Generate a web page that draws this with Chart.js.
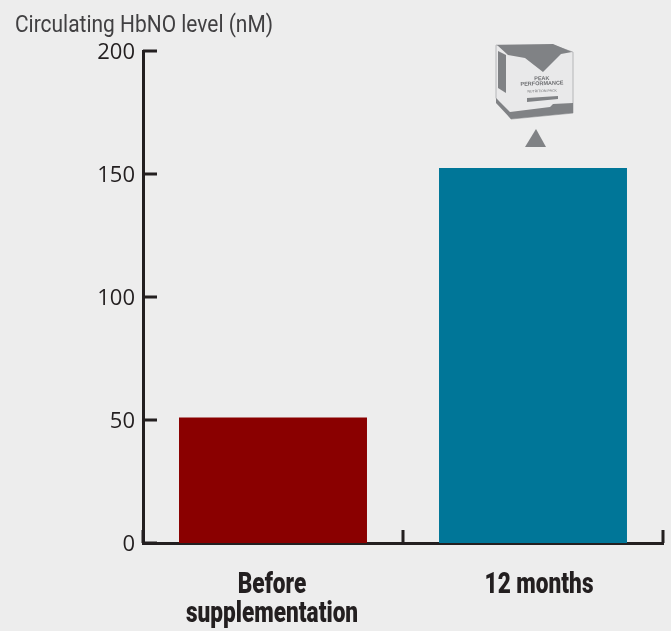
<!DOCTYPE html>
<html lang="en">
<head>
  <meta charset="UTF-8">
  <title>Circulating HbNO level</title>
  <script src="https://cdn.jsdelivr.net/npm/chart.js"></script>
  <style>
    body { margin: 0; padding: 0; background-color: #ededed; }
    canvas { display: block; }
  </style>
</head>
<body>
  <canvas id="chart" width="671" height="631"></canvas>

  <script>
    const categories = [['Before', 'supplementation'], ['12 months']];
    const hbnoValues = [51, 152.4];
    const barColors = ['#8a0000', '#007698'];
    const yTicks = [0, 50, 100, 150, 200];
    const axisColor = '#231f20';
    const iconColor = '#808285';
    const yTitle = 'Circulating HbNO level (nM)';
    const labelShift = [-1, 6]; // the labels sit a little off the bar centres in the original

    // no condensed font is installed, so squeeze the text horizontally
    function narrowText(ctx, text, x, y, font, color, squeeze, align) {
      ctx.save();
      ctx.font = font;
      ctx.fillStyle = color;
      ctx.textAlign = align;
      ctx.textBaseline = 'alphabetic';
      ctx.translate(x, y);
      ctx.scale(squeeze, 1);
      ctx.fillText(text, 0, 0);
      ctx.restore();
    }

    // ticks point inwards in the original, so ticks and labels are drawn here from the scales
    const axisMarks = {
      id: 'axisMarks',
      afterDraw(chart) {
        const { ctx, scales: { x, y } } = chart;
        ctx.save();
        ctx.strokeStyle = axisColor;
        ctx.lineWidth = 3;
        ctx.beginPath();
        yTicks.forEach(v => {
          const py = y.getPixelForValue(v);
          ctx.moveTo(x.left, py);
          ctx.lineTo(x.left + 14, py);
        });
        const step = x.getPixelForValue(1) - x.getPixelForValue(0);
        for (let i = 0; i <= categories.length; i++) {
          const px = x.getPixelForValue(0) + (i - 0.5) * step;
          ctx.moveTo(px, y.bottom);
          ctx.lineTo(px, y.bottom - 13);
        }
        ctx.stroke();
        ctx.restore();

        yTicks.forEach(v => {
          narrowText(ctx, String(v), x.left - 8, y.getPixelForValue(v) + 8, '22px "Open Sans"', axisColor, 1, 'right');
        });
        categories.forEach((lines, i) => {
          lines.forEach((line, j) => {
            narrowText(ctx, line, x.getPixelForValue(i) + labelShift[i], y.bottom + 50 + j * 29, '900 29px Roboto', axisColor, 0.78, 'center');
          });
        });
        narrowText(ctx, yTitle, 15, 32, '23px Roboto', '#414042', 0.91, 'left');
      }
    };

    // product box and arrow above the second bar
    const productIcon = {
      id: 'productIcon',
      afterDatasetsDraw(chart) {
        const { ctx, scales: { x, y } } = chart;
        const cx = x.getPixelForValue(1);
        const top = y.getPixelForValue(hbnoValues[1]);
        const path = pts => {
          ctx.beginPath();
          pts.forEach((p, i) => i ? ctx.lineTo(cx + p[0], top + p[1]) : ctx.moveTo(cx + p[0], top + p[1]));
          ctx.closePath();
        };
        const poly = (pts, fill) => {
          ctx.fillStyle = fill;
          path(pts);
          ctx.fill();
        };
        ctx.save();
        // arrow
        poly([[3, -39], [13, -21], [-8, -21]], iconColor);
        // box body
        const outline = [[-37, -123], [20, -123], [40, -116], [40, -55], [-22, -49], [-37, -70]];
        poly(outline, '#e9e9ea');
        ctx.strokeStyle = '#b5b6b8';
        ctx.lineWidth = 1;
        path(outline);
        ctx.stroke();
        // lid
        poly([[-36, -123], [20, -124], [39, -116], [28, -114], [10, -96], [-8, -110], [-25, -113]], iconColor);
        // side panel
        poly([[-35, -117], [-27, -113], [-27, -75], [-35, -80]], iconColor);
        // bottom strip
        poly([[-37, -70], [-23, -56], [17, -61], [20, -64], [40, -65], [40, -55], [-22, -49], [-37, -65]], iconColor);
        // label bar
        poly([[-6, -70], [25, -72], [25, -69], [-6, -66]], iconColor);
        ctx.translate(cx + 9, top - 83);
        ctx.rotate(-0.03);
        ctx.fillStyle = '#6d6e71';
        ctx.textAlign = 'center';
        ctx.font = 'bold 5.5px "Liberation Sans"';
        ctx.fillText('PEAK', 0, -5);
        ctx.fillText('PERFORMANCE', 0, 0);
        ctx.font = '3.5px "Liberation Sans"';
        ctx.fillText('NUTRITION PACK', 0, 7);
        ctx.restore();
      }
    };

    new Chart(document.getElementById('chart'), {
      type: 'bar',
      data: {
        labels: categories,
        datasets: [{
          data: hbnoValues,
          backgroundColor: barColors,
          barPercentage: 0.723,
          categoryPercentage: 1,
          borderWidth: 0
        }]
      },
      options: {
        responsive: false,
        animation: false,
        layout: { padding: { left: 15, right: 8, top: 51, bottom: 0 } },
        plugins: {
          legend: { display: false },
          tooltip: { enabled: false }
        },
        scales: {
          x: {
            grid: { display: false, drawTicks: false },
            border: { color: axisColor, width: 3 },
            afterFit(scale) { scale.height = 88; },
            ticks: { display: false }
          },
          y: {
            min: 0,
            max: 200,
            grid: { display: false, drawTicks: false },
            border: { color: axisColor, width: 3 },
            afterFit(scale) { scale.width = 128; },
            ticks: { display: false }
          }
        }
      },
      plugins: [productIcon, axisMarks]
    });
  </script>
</body>
</html>
